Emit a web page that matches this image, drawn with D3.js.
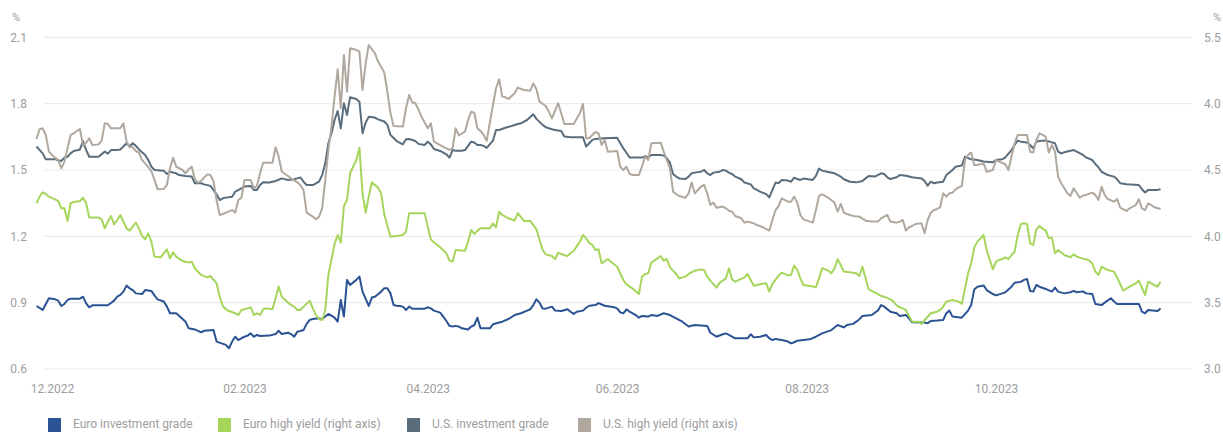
<!DOCTYPE html>
<html>
<head>
<meta charset="utf-8">
<script src="https://cdn.jsdelivr.net/npm/d3@7"></script>
<style>
  html, body { margin: 0; padding: 0; background: #ffffff; }
  svg text { font-family: Roboto, "Noto Sans", "Liberation Sans", sans-serif; }
</style>
</head>
<body>
<svg id="chart" width="1223" height="432"></svg>
<script>
// Yields in %, each point is [days since 1 Dec 2022, value]
const euroInvestmentGrade = [[-5,0.885],[-3,0.867],[-1,0.920],[1,0.915],[2,0.909],[3,0.885],[4,0.894],[5,0.912],[6,0.918],[9,0.918],[10,0.927],[11,0.897],[12,0.879],[13,0.888],[18,0.888],[20,0.909],[21,0.927],[22,0.935],[23,0.950],[24,0.977],[25,0.965],[26,0.957],[27,0.942],[29,0.939],[30,0.957],[32,0.953],[33,0.933],[34,0.915],[36,0.905],[37,0.882],[38,0.852],[40,0.852],[41,0.840],[43,0.814],[44,0.784],[46,0.779],[48,0.766],[49,0.773],[52,0.776],[53,0.724],[56,0.709],[57,0.694],[58,0.724],[59,0.746],[60,0.731],[61,0.739],[62,0.746],[63,0.751],[64,0.761],[65,0.746],[66,0.754],[67,0.749],[70,0.751],[72,0.758],[73,0.773],[74,0.758],[76,0.764],[77,0.758],[78,0.746],[79,0.769],[80,0.772],[81,0.776],[82,0.804],[83,0.822],[84,0.826],[86,0.829],[87,0.826],[89,0.849],[91,0.832],[92,0.814],[93,0.912],[94,0.837],[95,1.003],[96,0.980],[98,1.003],[99,1.018],[100,0.950],[102,0.885],[103,0.923],[104,0.927],[106,0.950],[107,0.965],[108,0.965],[109,0.942],[110,0.889],[111,0.886],[112,0.885],[113,0.882],[114,0.867],[115,0.882],[116,0.873],[117,0.873],[120,0.873],[121,0.879],[122,0.874],[123,0.864],[125,0.855],[126,0.837],[127,0.817],[128,0.795],[129,0.792],[130,0.795],[131,0.792],[132,0.784],[134,0.779],[135,0.792],[136,0.799],[137,0.832],[138,0.784],[141,0.784],[142,0.802],[144,0.810],[145,0.814],[147,0.826],[149,0.844],[151,0.852],[153,0.864],[154,0.870],[155,0.889],[156,0.915],[157,0.900],[158,0.874],[159,0.873],[161,0.882],[162,0.864],[164,0.862],[166,0.870],[167,0.859],[168,0.849],[169,0.859],[171,0.864],[172,0.877],[173,0.886],[175,0.889],[176,0.898],[178,0.886],[181,0.879],[182,0.874],[183,0.856],[184,0.852],[185,0.870],[186,0.859],[188,0.844],[189,0.832],[190,0.840],[192,0.837],[193,0.844],[195,0.840],[197,0.852],[199,0.844],[201,0.829],[203,0.814],[205,0.792],[207,0.799],[211,0.795],[212,0.764],[214,0.746],[216,0.757],[217,0.761],[218,0.754],[220,0.739],[224,0.739],[225,0.757],[226,0.743],[228,0.746],[230,0.754],[231,0.739],[232,0.731],[233,0.736],[235,0.731],[237,0.724],[238,0.716],[239,0.721],[240,0.728],[244,0.734],[246,0.746],[248,0.761],[251,0.776],[252,0.788],[253,0.799],[255,0.788],[256,0.799],[258,0.804],[259,0.814],[260,0.825],[261,0.840],[264,0.844],[266,0.865],[267,0.889],[268,0.882],[270,0.859],[272,0.852],[273,0.840],[275,0.844],[276,0.829],[277,0.811],[280,0.810],[281,0.810],[282,0.807],[283,0.817],[285,0.819],[287,0.822],[288,0.852],[289,0.864],[290,0.837],[293,0.832],[295,0.864],[296,0.889],[297,0.960],[298,0.972],[300,0.978],[301,0.957],[303,0.939],[304,0.933],[306,0.942],[307,0.947],[309,0.972],[310,0.990],[312,0.994],[313,1.003],[314,1.007],[315,0.953],[316,0.950],[317,0.980],[318,0.972],[320,0.962],[322,0.950],[323,0.968],[324,0.950],[326,0.942],[328,0.947],[329,0.953],[330,0.947],[332,0.951],[333,0.942],[335,0.939],[336,0.894],[338,0.889],[339,0.900],[341,0.920],[342,0.905],[343,0.894],[348,0.894],[350,0.894],[351,0.859],[352,0.852],[353,0.867],[356,0.862],[357,0.874]];

const euroHighYield = [[-5,4.249],[-4,4.299],[-3,4.332],[-2,4.319],[-1,4.299],[1,4.279],[2,4.266],[3,4.211],[4,4.211],[5,4.116],[6,4.249],[7,4.259],[9,4.266],[10,4.291],[11,4.249],[12,4.141],[15,4.141],[16,4.128],[17,4.060],[18,4.111],[19,4.153],[20,4.090],[21,4.123],[22,4.161],[23,4.111],[24,4.060],[25,4.043],[27,4.103],[28,4.060],[29,4.003],[30,3.977],[31,4.023],[32,3.960],[33,3.847],[35,3.842],[36,3.872],[37,3.902],[38,3.834],[39,3.880],[40,3.847],[42,3.814],[44,3.802],[45,3.809],[46,3.759],[48,3.709],[50,3.691],[51,3.701],[53,3.646],[54,3.545],[55,3.475],[56,3.450],[57,3.437],[59,3.420],[60,3.407],[61,3.445],[63,3.457],[64,3.465],[65,3.407],[66,3.420],[67,3.407],[68,3.450],[69,3.457],[71,3.450],[72,3.533],[73,3.621],[74,3.545],[76,3.500],[77,3.482],[78,3.470],[79,3.445],[80,3.445],[81,3.470],[83,3.515],[84,3.457],[85,3.407],[86,3.377],[87,3.369],[88,3.445],[89,3.709],[90,3.827],[91,3.942],[92,4.010],[93,3.952],[94,4.229],[95,4.274],[96,4.475],[98,4.575],[99,4.668],[100,4.324],[101,4.178],[102,4.299],[103,4.407],[105,4.367],[106,4.324],[107,4.166],[109,3.997],[111,4.002],[113,4.010],[114,4.035],[115,4.173],[120,4.173],[122,3.977],[123,3.955],[125,3.917],[127,3.872],[128,3.817],[129,3.809],[130,3.897],[133,3.892],[134,3.960],[135,4.048],[136,4.018],[137,4.043],[138,4.060],[141,4.060],[142,4.098],[143,4.068],[144,4.186],[145,4.161],[147,4.136],[149,4.118],[150,4.175],[152,4.116],[154,4.116],[156,4.053],[158,3.897],[159,3.864],[161,3.852],[162,3.829],[163,3.877],[165,3.857],[166,3.852],[167,3.872],[168,3.889],[170,3.960],[171,4.010],[172,3.985],[173,3.952],[174,3.935],[175,3.897],[176,3.902],[177,3.796],[179,3.829],[180,3.809],[182,3.771],[184,3.671],[185,3.638],[187,3.606],[189,3.565],[190,3.696],[191,3.716],[192,3.721],[193,3.802],[195,3.834],[196,3.852],[197,3.817],[198,3.829],[199,3.766],[200,3.741],[201,3.716],[202,3.683],[204,3.696],[205,3.716],[207,3.741],[209,3.751],[210,3.746],[211,3.696],[212,3.666],[214,3.613],[215,3.651],[217,3.681],[218,3.759],[219,3.676],[220,3.658],[223,3.691],[224,3.716],[225,3.671],[226,3.628],[228,3.638],[230,3.646],[231,3.583],[232,3.641],[234,3.704],[235,3.726],[237,3.706],[238,3.709],[239,3.779],[240,3.746],[241,3.683],[242,3.633],[245,3.621],[246,3.616],[247,3.683],[248,3.759],[250,3.741],[251,3.721],[252,3.759],[253,3.827],[254,3.784],[255,3.734],[258,3.726],[259,3.721],[260,3.701],[261,3.771],[263,3.600],[266,3.565],[267,3.550],[268,3.545],[270,3.525],[271,3.508],[272,3.480],[273,3.465],[274,3.457],[275,3.445],[276,3.400],[277,3.357],[279,3.357],[280,3.339],[281,3.369],[282,3.394],[283,3.420],[285,3.432],[286,3.445],[287,3.470],[288,3.508],[289,3.515],[290,3.520],[292,3.508],[293,3.490],[295,3.721],[296,3.796],[297,3.915],[298,3.960],[300,4.010],[301,3.897],[302,3.822],[303,3.751],[304,3.809],[305,3.822],[306,3.829],[307,3.842],[308,3.829],[309,3.859],[310,3.884],[311,4.010],[312,4.093],[313,4.098],[314,4.093],[315,3.947],[316,3.935],[317,4.053],[318,4.078],[319,4.058],[320,4.043],[321,3.985],[322,3.990],[323,3.872],[324,3.897],[326,3.859],[328,3.842],[329,3.864],[330,3.847],[332,3.832],[333,3.827],[334,3.817],[335,3.796],[336,3.734],[337,3.709],[338,3.771],[339,3.759],[340,3.746],[342,3.734],[343,3.690],[345,3.590],[347,3.621],[349,3.646],[350,3.666],[352,3.558],[353,3.658],[354,3.646],[355,3.633],[356,3.621],[357,3.658]];

const usInvestmentGrade = [[-5,1.606],[-3,1.575],[-2,1.548],[-1,1.548],[1,1.548],[3,1.541],[4,1.556],[5,1.560],[6,1.575],[7,1.586],[9,1.593],[10,1.631],[11,1.590],[12,1.560],[15,1.560],[17,1.583],[18,1.574],[19,1.590],[21,1.590],[22,1.593],[23,1.606],[24,1.621],[25,1.606],[26,1.621],[27,1.609],[28,1.593],[30,1.568],[31,1.545],[32,1.515],[33,1.500],[36,1.497],[37,1.482],[38,1.492],[40,1.485],[41,1.477],[43,1.473],[45,1.470],[46,1.440],[48,1.440],[49,1.435],[51,1.428],[52,1.410],[53,1.390],[54,1.364],[55,1.372],[56,1.375],[58,1.379],[59,1.402],[61,1.417],[62,1.425],[64,1.428],[65,1.410],[66,1.410],[67,1.432],[68,1.444],[70,1.443],[72,1.450],[74,1.462],[76,1.455],[78,1.458],[79,1.462],[80,1.466],[81,1.447],[82,1.432],[84,1.432],[86,1.447],[87,1.477],[88,1.530],[89,1.621],[90,1.666],[91,1.726],[92,1.767],[93,1.688],[94,1.802],[95,1.749],[96,1.829],[98,1.821],[99,1.809],[100,1.666],[101,1.714],[102,1.741],[104,1.737],[105,1.729],[107,1.719],[108,1.704],[109,1.658],[111,1.631],[113,1.616],[114,1.639],[115,1.640],[117,1.631],[118,1.618],[120,1.613],[121,1.628],[122,1.616],[123,1.595],[125,1.586],[127,1.571],[128,1.556],[129,1.590],[130,1.587],[132,1.587],[133,1.590],[135,1.628],[136,1.624],[137,1.613],[138,1.613],[139,1.609],[140,1.600],[142,1.633],[143,1.681],[144,1.681],[146,1.691],[148,1.699],[150,1.708],[151,1.711],[153,1.726],[155,1.752],[156,1.731],[158,1.704],[159,1.693],[161,1.684],[162,1.681],[164,1.676],[165,1.651],[167,1.648],[171,1.648],[172,1.606],[173,1.621],[174,1.636],[175,1.640],[178,1.643],[182,1.646],[183,1.621],[184,1.598],[185,1.578],[186,1.557],[189,1.557],[190,1.556],[191,1.563],[192,1.557],[193,1.568],[196,1.568],[197,1.565],[198,1.553],[199,1.533],[200,1.482],[201,1.470],[202,1.462],[204,1.459],[205,1.470],[206,1.485],[207,1.488],[209,1.492],[210,1.500],[211,1.485],[212,1.477],[213,1.488],[215,1.492],[216,1.500],[217,1.497],[218,1.488],[219,1.482],[220,1.470],[222,1.458],[223,1.443],[225,1.435],[226,1.417],[227,1.410],[228,1.402],[230,1.391],[231,1.376],[232,1.410],[233,1.443],[234,1.440],[235,1.455],[237,1.452],[238,1.447],[239,1.465],[240,1.459],[241,1.455],[242,1.461],[245,1.455],[246,1.473],[247,1.506],[248,1.497],[250,1.491],[252,1.485],[254,1.470],[255,1.458],[257,1.447],[259,1.444],[261,1.450],[262,1.462],[263,1.473],[265,1.470],[267,1.485],[268,1.482],[269,1.467],[270,1.459],[272,1.467],[273,1.477],[275,1.474],[277,1.467],[280,1.462],[281,1.450],[282,1.429],[283,1.447],[284,1.440],[285,1.443],[287,1.447],[288,1.477],[290,1.500],[291,1.515],[293,1.520],[294,1.560],[296,1.548],[298,1.545],[300,1.538],[303,1.535],[304,1.545],[306,1.548],[307,1.557],[309,1.590],[310,1.613],[311,1.633],[312,1.628],[314,1.624],[315,1.613],[316,1.598],[317,1.628],[318,1.631],[320,1.633],[322,1.625],[323,1.621],[324,1.583],[325,1.575],[326,1.580],[329,1.590],[330,1.583],[332,1.568],[333,1.557],[335,1.545],[336,1.527],[337,1.512],[338,1.492],[340,1.477],[342,1.470],[343,1.458],[344,1.440],[346,1.435],[350,1.432],[351,1.413],[352,1.398],[353,1.410],[356,1.410],[357,1.413]];

const usHighYield = [[-5,4.734],[-4,4.807],[-3,4.814],[-2,4.764],[-1,4.638],[0,4.613],[1,4.593],[2,4.575],[3,4.513],[4,4.563],[5,4.663],[6,4.764],[7,4.776],[8,4.794],[9,4.809],[10,4.681],[11,4.706],[12,4.739],[13,4.688],[15,4.693],[16,4.721],[17,4.852],[18,4.847],[19,4.814],[22,4.814],[23,4.852],[24,4.714],[25,4.671],[26,4.671],[27,4.643],[28,4.631],[29,4.575],[30,4.550],[32,4.492],[33,4.425],[34,4.354],[36,4.357],[37,4.387],[38,4.513],[39,4.593],[40,4.525],[42,4.500],[43,4.475],[44,4.505],[45,4.525],[46,4.430],[47,4.405],[48,4.417],[49,4.442],[50,4.467],[51,4.462],[52,4.417],[53,4.274],[54,4.160],[55,4.168],[56,4.178],[58,4.198],[59,4.178],[60,4.274],[61,4.291],[62,4.425],[64,4.425],[65,4.362],[66,4.382],[67,4.475],[68,4.555],[71,4.555],[72,4.671],[73,4.601],[74,4.487],[76,4.455],[77,4.437],[79,4.407],[80,4.385],[81,4.349],[82,4.178],[84,4.148],[85,4.128],[86,4.148],[87,4.211],[88,4.425],[89,4.651],[90,4.827],[91,5.053],[92,5.259],[93,4.965],[94,5.367],[95,5.090],[96,5.417],[98,5.405],[99,5.392],[100,5.103],[101,5.304],[102,5.442],[104,5.379],[105,5.317],[107,5.234],[108,5.090],[109,4.927],[110,4.832],[113,4.827],[114,4.965],[115,5.065],[116,5.010],[117,5.003],[118,4.957],[119,4.902],[121,4.814],[122,4.852],[123,4.714],[125,4.688],[127,4.663],[128,4.651],[129,4.663],[130,4.814],[131,4.760],[133,4.789],[134,4.877],[135,4.940],[136,4.930],[137,4.814],[138,4.794],[139,4.764],[140,4.721],[142,4.990],[143,5.116],[144,5.183],[145,5.053],[146,5.048],[147,5.035],[149,5.078],[150,5.121],[152,5.103],[154,5.098],[155,5.153],[156,5.108],[157,5.015],[159,4.982],[160,4.940],[161,4.889],[163,5.003],[164,4.927],[165,4.847],[168,4.847],[170,4.930],[171,4.997],[172,4.739],[173,4.739],[174,4.764],[175,4.786],[176,4.776],[177,4.688],[178,4.726],[179,4.638],[182,4.643],[183,4.525],[184,4.500],[185,4.525],[186,4.470],[187,4.462],[189,4.462],[190,4.525],[191,4.601],[192,4.575],[193,4.701],[196,4.706],[197,4.638],[198,4.575],[199,4.513],[200,4.337],[201,4.319],[202,4.304],[204,4.291],[205,4.324],[206,4.405],[207,4.324],[208,4.349],[209,4.374],[210,4.387],[211,4.324],[212,4.236],[213,4.254],[214,4.216],[216,4.224],[217,4.211],[218,4.193],[219,4.186],[220,4.153],[222,4.136],[223,4.103],[224,4.111],[226,4.098],[227,4.085],[229,4.068],[231,4.043],[232,4.123],[233,4.198],[234,4.229],[235,4.286],[237,4.261],[238,4.261],[239,4.299],[240,4.254],[241,4.161],[242,4.128],[245,4.103],[246,4.198],[247,4.304],[248,4.317],[250,4.291],[252,4.254],[253,4.186],[254,4.244],[255,4.178],[256,4.168],[258,4.153],[260,4.148],[261,4.133],[262,4.118],[264,4.111],[266,4.111],[267,4.136],[269,4.161],[270,4.111],[272,4.103],[273,4.111],[274,4.123],[275,4.043],[276,4.068],[277,4.078],[278,4.093],[280,4.098],[281,4.023],[282,4.123],[283,4.178],[284,4.198],[285,4.206],[286,4.219],[287,4.324],[288,4.299],[289,4.324],[290,4.329],[291,4.354],[292,4.369],[293,4.379],[294,4.575],[295,4.613],[296,4.631],[297,4.538],[298,4.538],[300,4.550],[301,4.487],[303,4.500],[304,4.575],[305,4.563],[307,4.543],[308,4.500],[309,4.601],[310,4.701],[311,4.764],[312,4.764],[314,4.764],[315,4.638],[316,4.631],[317,4.726],[318,4.776],[319,4.764],[320,4.751],[321,4.631],[322,4.688],[323,4.638],[324,4.450],[325,4.400],[326,4.362],[327,4.324],[328,4.304],[329,4.362],[331,4.291],[332,4.307],[333,4.312],[335,4.329],[336,4.312],[337,4.274],[338,4.374],[339,4.312],[340,4.281],[342,4.261],[343,4.281],[344,4.216],[346,4.191],[347,4.211],[349,4.236],[350,4.279],[351,4.211],[352,4.198],[353,4.249],[354,4.236],[355,4.219],[357,4.206]];

const seriesNames = ["Euro investment grade", "Euro high yield (right axis)", "U.S. investment grade", "U.S. high yield (right axis)"];
const seriesColors = ["#2b5394", "#a6d55b", "#5a6d7d", "#b0a89f"];
const seriesAxis = ["left", "right", "left", "right"];
const seriesData = [euroInvestmentGrade, euroHighYield, usInvestmentGrade, usHighYield];

const leftTicks = [0.6, 0.9, 1.2, 1.5, 1.8, 2.1];
const rightTicks = [3.0, 3.5, 4.0, 4.5, 5.0, 5.5];
const rightTickLabels = ["3.0", "3.5", "4.0", "4.5", "4.0", "5.5"];
const monthTicks = ["2022-12-01", "2023-02-01", "2023-04-01", "2023-06-01", "2023-08-01", "2023-10-01"];

const baseDate = new Date(2022, 11, 1);
const toDate = d => new Date(2022, 11, 1 + d);
const parseDay = d3.timeParse("%Y-%m-%d");

const svg = d3.select("#chart");
const textColor = "#9d9d9d";
const plotLeft = 44, plotRight = 1192, plotTop = 37.3, plotBottom = 369;

const x = d3.scaleTime()
  .domain([baseDate, new Date(2023, 9, 1)])
  .range([52, 996]);
const yLeft = d3.scaleLinear().domain([0.6, 2.1]).range([plotBottom, plotTop]);
const yRight = d3.scaleLinear().domain([3.0, 5.5]).range([plotBottom, plotTop]);

// horizontal gridlines
svg.append("g")
  .selectAll("line")
  .data(leftTicks)
  .join("line")
  .attr("x1", plotLeft).attr("x2", plotRight)
  .attr("y1", d => yLeft(d)).attr("y2", d => yLeft(d))
  .attr("stroke", "#ebebeb").attr("stroke-width", 1.2);

// left axis labels
const leftAxis = svg.append("g")
  .attr("transform", `translate(${plotLeft},0)`)
  .call(d3.axisLeft(yLeft).tickValues(leftTicks).tickFormat(d3.format(".1f")).tickSize(0).tickPadding(17));
leftAxis.select(".domain").remove();
leftAxis.selectAll("text").attr("fill", textColor).style("font-size", "12px");

// right axis labels
const rightAxis = svg.append("g")
  .attr("transform", `translate(${plotRight},0)`)
  .call(d3.axisRight(yRight).tickValues(rightTicks).tickFormat((d, i) => rightTickLabels[i]).tickSize(0).tickPadding(12));
rightAxis.select(".domain").remove();
rightAxis.selectAll("text").attr("fill", textColor).style("font-size", "12px");

// unit labels
svg.append("text").attr("x", 12).attr("y", 21).attr("fill", textColor)
  .style("font-size", "11px").text("%");
svg.append("text").attr("x", 1221).attr("y", 21).attr("text-anchor", "end").attr("fill", textColor)
  .style("font-size", "11px").text("%");

// month axis
const xAxis = svg.append("g")
  .attr("transform", `translate(0,${plotBottom})`)
  .call(d3.axisBottom(x).tickValues(monthTicks.map(parseDay)).tickFormat(d3.timeFormat("%m.%Y")).tickSize(0).tickPadding(15));
xAxis.select(".domain").remove();
xAxis.selectAll("text").attr("fill", textColor).style("font-size", "12px");

// series lines
seriesData.forEach((data, i) => {
  const y = seriesAxis[i] === "left" ? yLeft : yRight;
  const line = d3.line()
    .x(d => x(toDate(d[0])))
    .y(d => y(d[1]));
  svg.append("path")
    .datum(data)
    .attr("fill", "none")
    .attr("stroke", seriesColors[i])
    .attr("stroke-width", 2)
    .attr("stroke-linejoin", "round")
    .attr("d", line);
});

// legend: swatch plus label for each series
const legendX = [48, 218, 407, 578];
const legend = svg.append("g");
seriesNames.forEach((name, i) => {
  const item = legend.append("g").attr("transform", `translate(${legendX[i]},0)`);
  item.append("rect").attr("x", 0).attr("y", 418).attr("width", 13).attr("height", 14)
    .attr("fill", seriesColors[i]);
  item.append("text").attr("x", 25).attr("y", 428).attr("fill", textColor)
    .style("font-size", "12px").text(name);
});
</script>
</body>
</html>
